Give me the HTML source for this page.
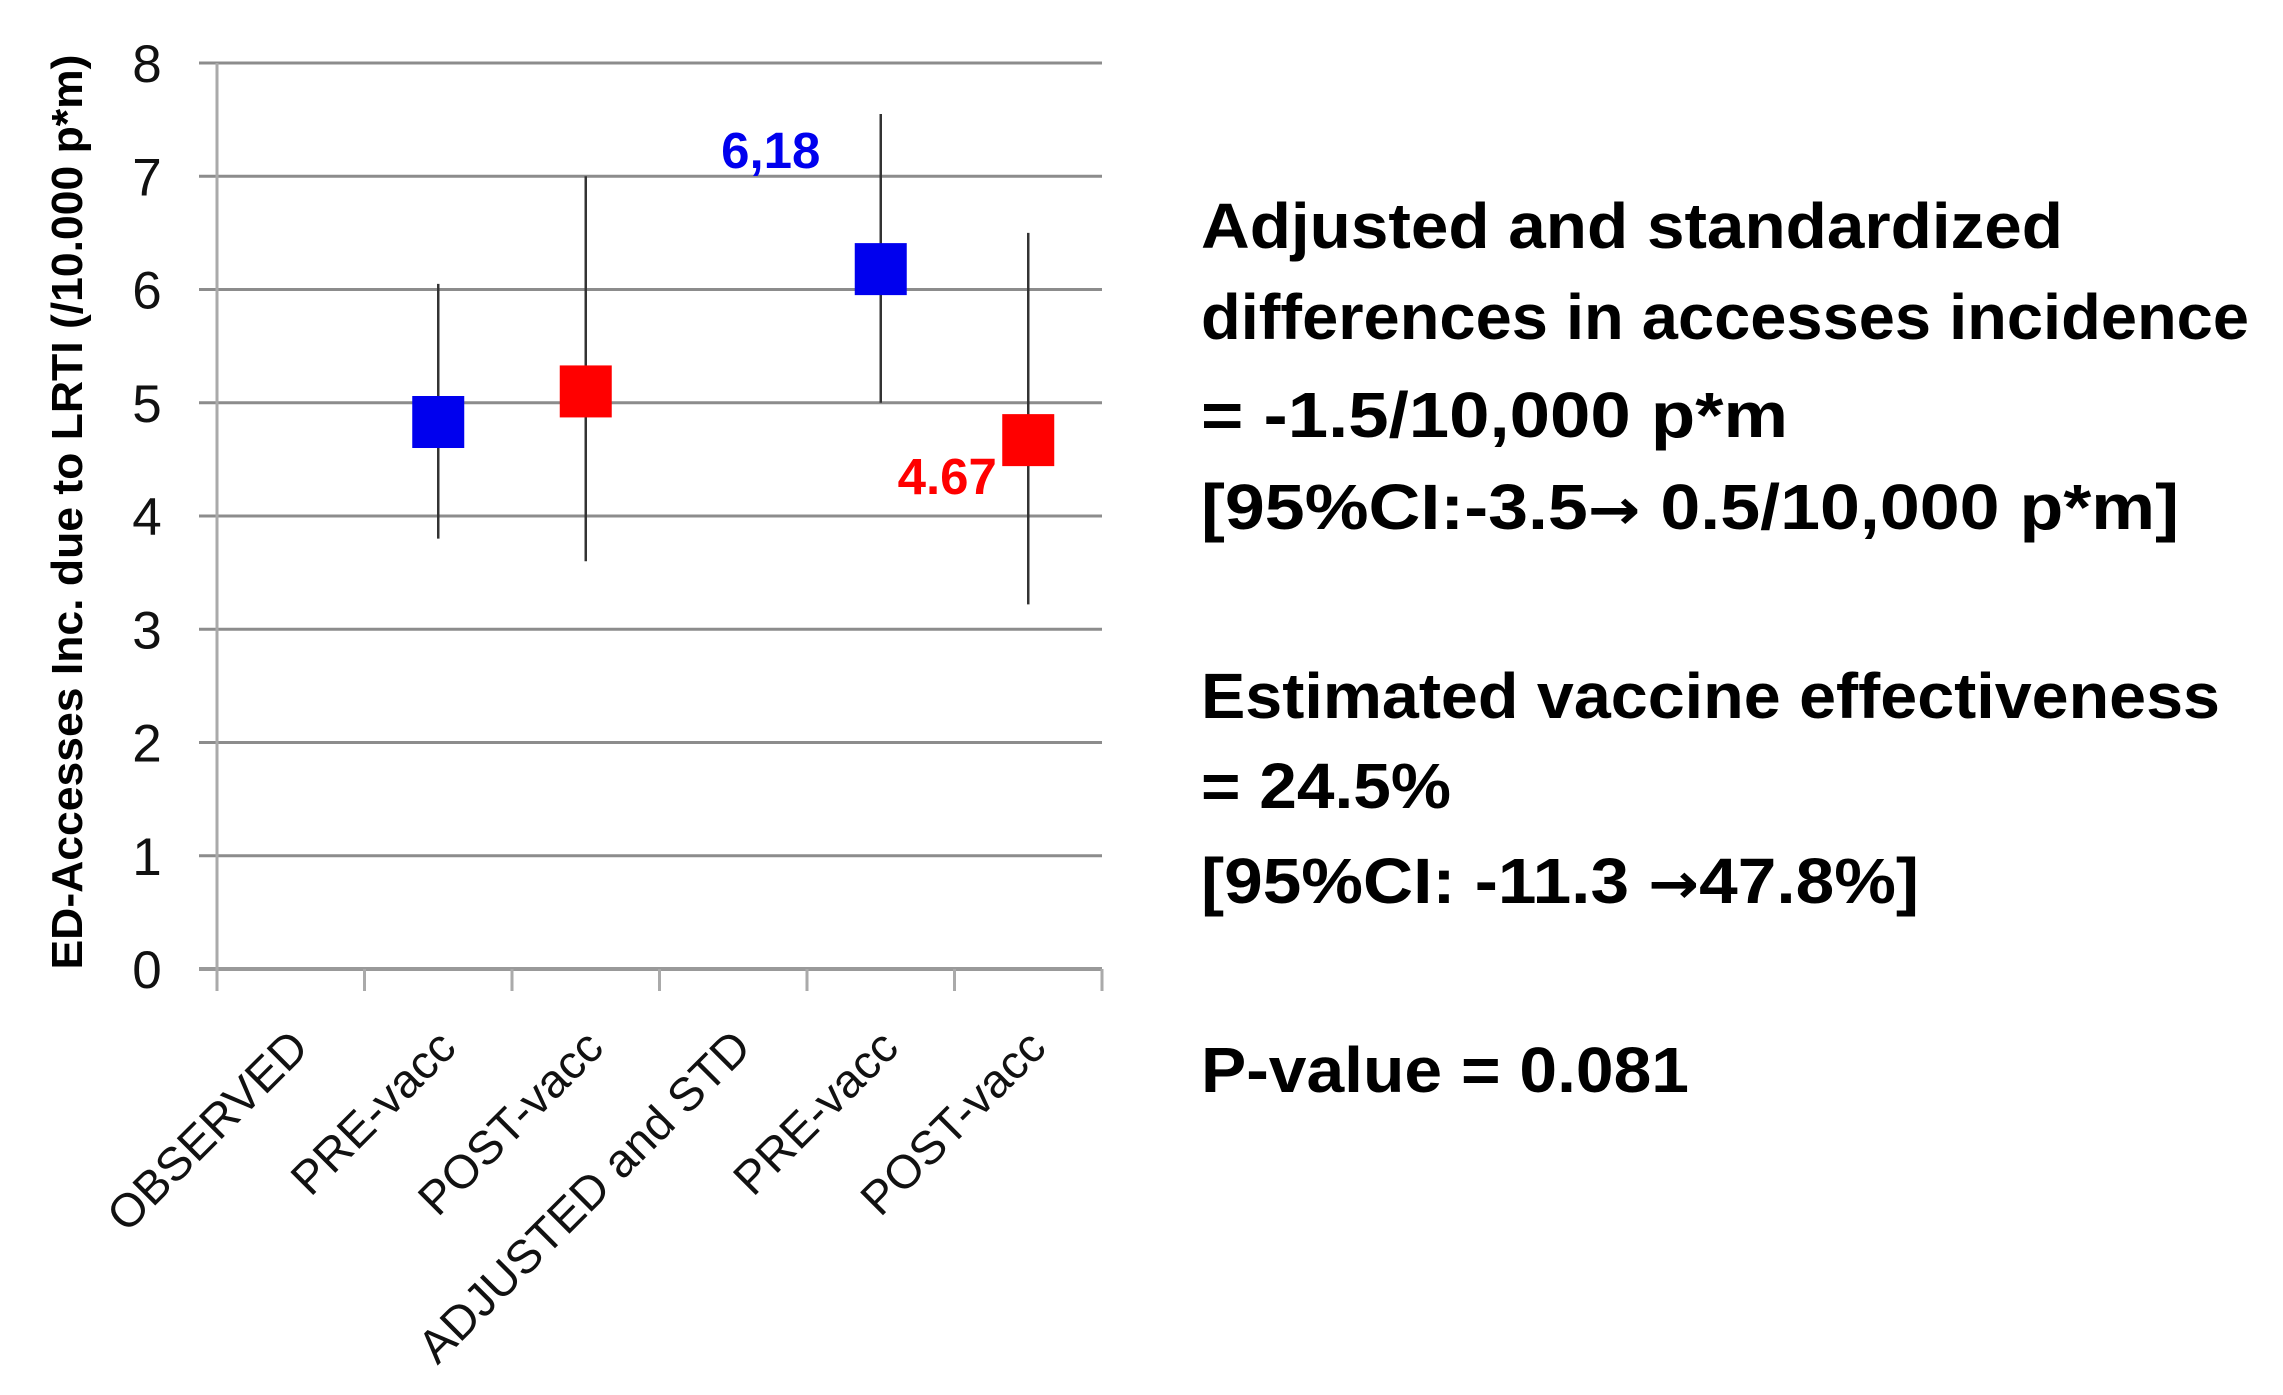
<!DOCTYPE html>
<html><head><meta charset="utf-8"><style>
html,body{margin:0;padding:0;background:#fff;}
svg{display:block;font-family:"Liberation Sans",sans-serif;}
</style></head><body>
<svg id="chart" width="2283" height="1395" viewBox="0 0 2283 1395">
<g id="grid"></g>
<g id="yticks"></g>
<g id="xaxis"></g>
<g id="marks"></g>
<text transform="translate(82,512) rotate(-90)" text-anchor="middle" font-weight="bold" font-size="44" textLength="915" lengthAdjust="spacingAndGlyphs">ED-Accesses Inc. due to LRTI (/10.000 p*m)</text>
<g font-weight="bold" font-size="64" fill="#000">
<text x="1201" y="248" textLength="862" lengthAdjust="spacingAndGlyphs">Adjusted and standardized</text>
<text x="1201" y="339" textLength="1048" lengthAdjust="spacingAndGlyphs">differences in accesses incidence</text>
<text x="1201" y="437" textLength="587" lengthAdjust="spacingAndGlyphs">= -1.5/10,000 p*m</text>
<text x="1201" y="529" textLength="978" lengthAdjust="spacingAndGlyphs">[95%CI:-3.5<tspan font-family="DejaVu Sans" font-size="56">→</tspan> 0.5/10,000 p*m]</text>
<text x="1201" y="718" textLength="1019" lengthAdjust="spacingAndGlyphs">Estimated vaccine effectiveness</text>
<text x="1201" y="808" textLength="250" lengthAdjust="spacingAndGlyphs">= 24.5%</text>
<text x="1201" y="903" textLength="718" lengthAdjust="spacingAndGlyphs">[95%CI: -11.3 <tspan font-family="DejaVu Sans" font-size="56">→</tspan>47.8%]</text>
<text x="1201" y="1092" textLength="488" lengthAdjust="spacingAndGlyphs">P-value = 0.081</text>
</g>
</svg>
<script>
const categories = ["OBSERVED","PRE-vacc","POST-vacc","ADJUSTED and STD","PRE-vacc","POST-vacc"];
const pointIndex = [1,2,4,5];
const pointValues = [4.83,5.1,6.18,4.67];
const lowValues = [3.8,3.6,5.0,3.22];
const highValues = [6.05,7.0,7.55,6.5];
const pointColors = ["#0000ee","#ff0000","#0000ee","#ff0000"];
const pointLabels = [null,null,"6,18","4.67"];
const yTicks = [0,1,2,3,4,5,6,7,8];

const NS="http://www.w3.org/2000/svg";
const X0=217,X1=1102,Y0=969,Y8=63;
const y=v=>Y0-(Y0-Y8)*v/8;
const band=(X1-X0)/categories.length;
const xc=i=>X0+band*(i+0.5);
function mk(parent,tag,attrs){const e=document.createElementNS(NS,tag);for(const k in attrs)e.setAttribute(k,attrs[k]);parent.appendChild(e);return e;}
const grid=document.getElementById('grid'),yt=document.getElementById('yticks'),xa=document.getElementById('xaxis'),mg=document.getElementById('marks');
yTicks.forEach(t=>{
  const l=mk(grid,'line',{x1:X0-18,x2:X1,y1:y(t),y2:y(t),stroke:t===0?'#999':'#8c8c8c','stroke-width':t===0?4:3});
  
  
  const tx=mk(yt,'text',{x:147,y:y(t)+19,'text-anchor':'middle','font-size':53,fill:'#111'});
  tx.textContent=t;
  
  
});
const ax=mk(xa,'line',{x1:X0,x2:X0,y1:Y8,y2:Y0+22,stroke:'#aaa','stroke-width':3});


for(let i=0;i<=categories.length;i++){
  const tk=mk(xa,'line',{x1:X0+band*i,x2:X0+band*i,y1:Y0,y2:Y0+22,stroke:'#aaa','stroke-width':3});
  
  
}
categories.forEach((c,i)=>{
  const cx=xc(i)+20,cy=1050;
  const t=mk(xa,'text',{x:cx,y:cy,'text-anchor':'end','font-size':47,fill:'#111',transform:`rotate(-45 ${cx} ${cy})`});
  t.textContent=c;
  
  
});
pointIndex.forEach((ci,k)=>{
  const cx=xc(ci);
  const el=mk(mg,'line',{x1:cx,x2:cx,y1:y(highValues[k]),y2:y(lowValues[k]),stroke:'#333','stroke-width':2.5});
  
  
  const s=26;
  const r=mk(mg,'rect',{x:cx-s,y:y(pointValues[k])-s,width:2*s,height:2*s,fill:pointColors[k]});
  
  
  if(pointLabels[k]){
    const lx = k===2 ? cx-110 : cx-81;
    const ly = k===2 ? y(highValues[k])+54 : y(pointValues[k])+54;
    const t=mk(mg,'text',{x:lx,y:ly,'text-anchor':'middle','font-size':51,'font-weight':'bold',fill:pointColors[k]});
    t.textContent=pointLabels[k];
    
    
  }
});
</script>
</body></html>
